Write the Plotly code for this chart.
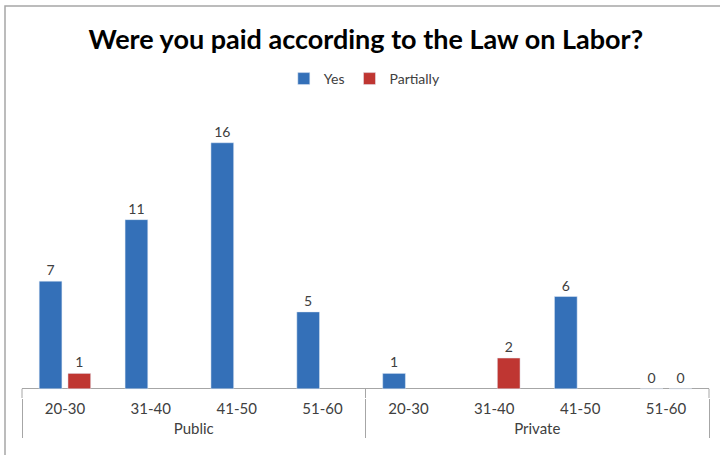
import plotly.graph_objects as go

# Survey answers by sector and age group
sectors = ["Public"] * 4 + ["Private"] * 4
age_groups = ["20-30", "31-40", "41-50", "51-60"] * 2
yes_counts = [7, 11, 16, 5, 1, None, 6, 0]
partial_counts = [1, None, None, None, None, 2, None, 0]

W, H = 720, 455
Y_MIN, Y_MAX = -0.6, 18          # small pad below the baseline for the labels
L, R, T, B = 22, 11, 112, 57
FONT = "Lato"
GRID = "#a6a6a6"

fig = go.Figure()
fig.add_trace(go.Bar(
    name="Yes", x=[sectors, age_groups], y=yes_counts,
    marker=dict(color="#3470b8"),
    text=[("" if v is None else str(v)) for v in yes_counts],
    textposition="outside", cliponaxis=False,
    textfont=dict(family=FONT, size=14, color="#404040"),
))
fig.add_trace(go.Bar(
    name="Partially", x=[sectors, age_groups], y=partial_counts,
    marker=dict(color="#bf3632"),
    text=[("" if v is None else str(v)) for v in partial_counts],
    textposition="outside", cliponaxis=False,
    textfont=dict(family=FONT, size=14, color="#404040"),
))

pw = W - L - R
ph = H - T - B

# divider stubs between the baseline and the label band
stubs = [dict(type="line", xref="paper", yref="y", x0=xp, x1=xp,
              y0=0, y1=Y_MIN, line=dict(color=GRID, width=1))
         for xp in (0, 0.5, 1)]

fig.update_layout(
    width=W, height=H,
    margin=dict(l=L, r=R, t=T, b=B, pad=0, autoexpand=False),
    paper_bgcolor="white", plot_bgcolor="white",
    barmode="group", bargap=0.33, bargroupgap=0.21,
    title=dict(text="<b>Were you paid according to the Law on Labor?</b>",
               x=0.508, xanchor="center", y=1 - 40 / H, yanchor="middle",
               font=dict(family=FONT, size=27, color="black")),
    legend=dict(orientation="h", x=0.499, xanchor="center", y=1 - 79 / H,
                yref="container", yanchor="middle",
                font=dict(family=FONT, size=14, color="#404040"),
                itemwidth=30, traceorder="normal"),
    showlegend=True,
    xaxis=dict(type="multicategory", showline=False, ticks="",
               automargin=False,
               showdividers=True, dividercolor=GRID, dividerwidth=1,
               tickfont=dict(family=FONT, size=15, color="#404040")),
    yaxis=dict(range=[Y_MIN, Y_MAX], showticklabels=False, showgrid=False,
               automargin=False,
               ticks="", showline=False, zeroline=True, zerolinecolor=GRID,
               zerolinewidth=1),
    shapes=[dict(type="rect", xref="paper", yref="paper",
                 x0=(5 - L) / pw, x1=1.1, y0=-0.5, y1=(H - B - 6) / ph,
                 line=dict(color=GRID, width=1.5), layer="below")] + stubs,
)

fig.write_html("out.html")
